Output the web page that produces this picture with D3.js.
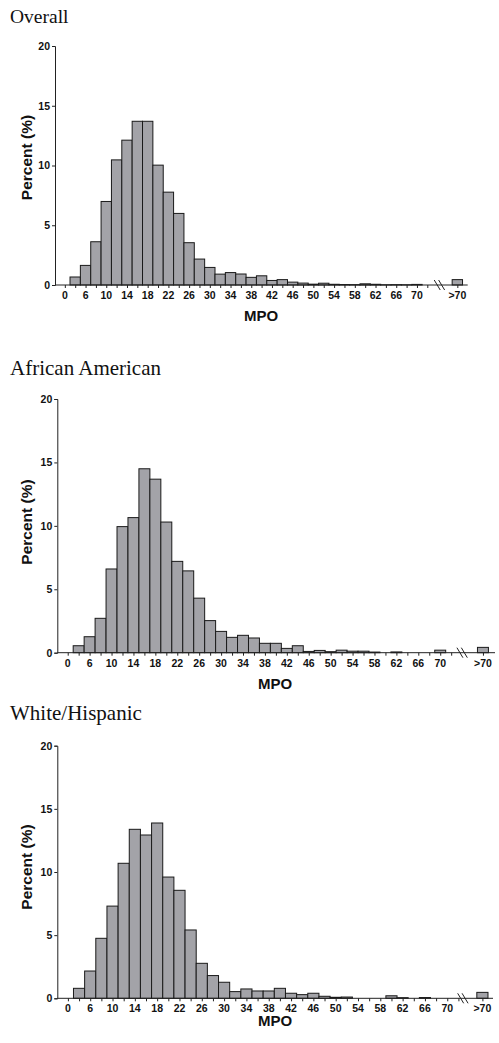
<!DOCTYPE html>
<html>
<head>
<meta charset="utf-8">
<script src="https://cdn.jsdelivr.net/npm/d3@7"></script>
<style>
  body { margin: 0; background: #fff; }
  svg text { font-family: "Liberation Sans", Arial, sans-serif; font-weight: bold; }
  svg text.title { font-family: "Liberation Serif", "Times New Roman", serif; font-weight: normal; }
</style>
</head>
<body>
<div id="chart"></div>
<script>
// bin labels shown under every other bin (bins are 2 units wide)
const tickLabels = ["0", "6", "10", "14", "18", "22", "26", "30", "34", "38", "42", "46", "50", "54", "58", "62", "66", "70"];
const overLabel = ">70";
const yTicks = [0, 5, 10, 15, 20];

const overall = [0, 0.67, 1.64, 3.62, 6.99, 10.47, 12.12, 13.7, 13.7, 10.03, 7.77, 5.99, 3.54, 2.17, 1.47, 0.91, 1.04, 0.92,
  0.64, 0.77, 0.38, 0.45, 0.24, 0.16, 0.07, 0.15, 0.06, 0.04, 0.03, 0.1, 0.06, 0.02, 0.03, 0.02, 0.05];
const overallOver = 0.45;

const africanAmerican = [0, 0.55, 1.26, 2.71, 6.6, 9.94, 10.65, 14.5, 13.68, 10.3, 7.2, 6.45, 4.3, 2.53, 1.68, 1.21, 1.37, 1.16,
  0.74, 0.74, 0.34, 0.55, 0.1, 0.18, 0.08, 0.2, 0.12, 0.12, 0.05, 0, 0.06, 0, 0, 0, 0.2];
const africanAmericanOver = 0.42;

const whiteHispanic = [0, 0.79, 2.16, 4.75, 7.3, 10.69, 13.38, 12.93, 13.88, 9.6, 8.55, 5.41, 2.77, 1.8, 1.27, 0.53, 0.74, 0.58,
  0.58, 0.79, 0.4, 0.29, 0.4, 0.16, 0.08, 0.1, 0, 0, 0, 0.2, 0.05, 0, 0.06, 0, 0];
const whiteHispanicOver = 0.47;

const width = 499, height = 1043;
const svg = d3.select("#chart").append("svg")
  .attr("width", width)
  .attr("height", height);

// layout of each panel (pixel positions), x positions in bin-index units
const panels = [
  { title: "Overall", values: overall, over: overallOver, titleY: 23, titleSize: 19.5,
    x0: 55, x1: 467.7, y0: 285, y1: 46, breakAt: 36.67, overAt: 38.4, xEnd: 39.4, labY: 299, mpoX: 261, mpoY: 320.5, ylabY: 157.5 },
  { title: "African American", values: africanAmerican, over: africanAmericanOver, titleY: 375, titleSize: 21,
    x0: 57.3, x1: 495, y0: 652.7, y1: 399, breakAt: 36.5, overAt: 38.4, xEnd: 39.5, labY: 667, mpoX: 275, mpoY: 689, ylabY: 522 },
  { title: "White/Hispanic", values: whiteHispanic, over: whiteHispanicOver, titleY: 720, titleSize: 21,
    x0: 57.3, x1: 493, y0: 998.3, y1: 745.7, breakAt: 35.9, overAt: 37.65, xEnd: 38.6, labY: 1012, mpoX: 275, mpoY: 1026, ylabY: 867 }
];

panels.forEach(p => drawPanel(p));

function drawPanel(p) {
  const g = svg.append("g");

  const x = d3.scaleLinear().domain([-0.45, p.xEnd]).range([p.x0, p.x1]);
  const y = d3.scaleLinear().domain([0, 20]).range([p.y0, p.y1]);
  const bw = x(1) - x(0);

  g.append("text")
    .attr("class", "title")
    .attr("x", 10)
    .attr("y", p.titleY)
    .attr("font-size", p.titleSize)
    .attr("fill", "#111")
    .text(p.title);

  // bars
  const bars = p.values.map((v, i) => ({ i: i, v: v })).filter(d => d.v > 0);
  bars.push({ i: p.overAt - 0.5, v: p.over });
  g.selectAll("rect.bar")
    .data(bars)
    .enter()
    .append("rect")
    .attr("class", "bar")
    .attr("x", d => x(d.i))
    .attr("y", d => y(d.v))
    .attr("width", bw)
    .attr("height", d => p.y0 - y(d.v))
    .attr("fill", "#a3a3a8")
    .attr("stroke", "#1a1a1a")
    .attr("stroke-width", 1);

  // y axis
  const yAxis = g.append("g")
    .attr("transform", "translate(" + p.x0 + ",0)")
    .call(d3.axisLeft(y).tickValues(yTicks).tickSize(3).tickPadding(2));
  yAxis.select(".domain").attr("stroke", "#222").attr("stroke-width", 1);
  yAxis.selectAll("line").attr("stroke", "#222");
  yAxis.selectAll("text").attr("font-size", 10.5).attr("fill", "#111")
    .attr("font-family", "Liberation Sans, Arial, sans-serif").attr("font-weight", "bold");

  // x axis: ticks at each bin centre, labels on every other bin
  const tickIdx = d3.range(0, 36).map(i => i + 0.5);
  const xAxis = g.append("g")
    .attr("transform", "translate(0," + p.y0 + ")")
    .call(d3.axisBottom(x).tickValues(tickIdx.concat([p.overAt])).tickSize(3).tickFormat(""));
  xAxis.select(".domain").remove();
  xAxis.selectAll("line").attr("stroke", "#222");
  g.append("line")
    .attr("x1", p.x0).attr("x2", p.x1)
    .attr("y1", p.y0).attr("y2", p.y0)
    .attr("stroke", "#222");

  g.selectAll("text.xlab")
    .data(tickLabels)
    .enter()
    .append("text")
    .attr("class", "xlab")
    .attr("x", (d, i) => x(i * 2 + 0.5))
    .attr("y", p.labY)
    .attr("text-anchor", "middle")
    .attr("font-size", 10.5)
    .attr("fill", "#111")
    .text(d => d);
  g.append("text")
    .attr("x", x(p.overAt))
    .attr("y", p.labY)
    .attr("text-anchor", "middle")
    .attr("font-size", 10.5)
    .attr("fill", "#111")
    .text(overLabel);

  // axis break marks
  const bx = x(p.breakAt);
  [-2.2, 2.2].forEach(o => {
    g.append("line")
      .attr("x1", bx + o - 3).attr("y1", p.y0 - 5)
      .attr("x2", bx + o + 3).attr("y2", p.y0 + 5)
      .attr("stroke", "#222").attr("stroke-width", 1);
  });

  g.append("text")
    .attr("x", p.mpoX)
    .attr("y", p.mpoY)
    .attr("text-anchor", "middle")
    .attr("font-size", 15)
    .attr("fill", "#111")
    .text("MPO");

  g.append("text")
    .attr("transform", "translate(32," + p.ylabY + ") rotate(-90)")
    .attr("text-anchor", "middle")
    .attr("font-size", 15.5)
    .attr("fill", "#111")
    .text("Percent (%)");
}
</script>
</body>
</html>
